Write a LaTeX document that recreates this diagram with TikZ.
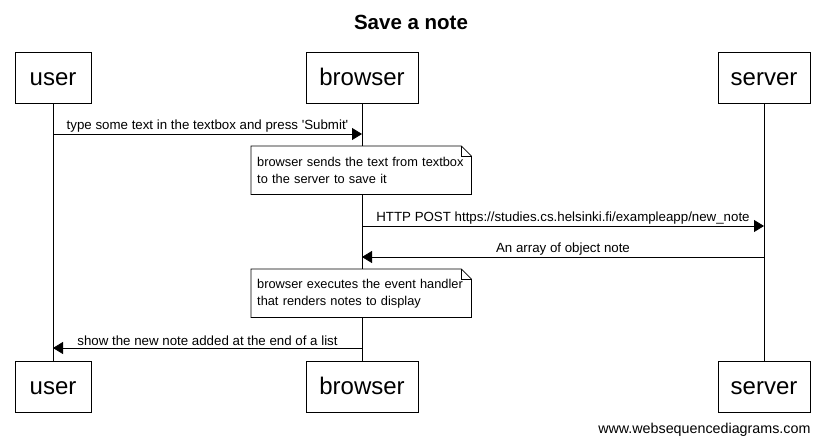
\documentclass[tikz,border=0pt]{standalone}
\usepackage{fontspec}
\setmainfont{Liberation Sans}
\usetikzlibrary{arrows.meta,calc}

\begin{document}
\begin{tikzpicture}[x=1pt,y=-1pt,every text node part/.style={align=left}]
  \tikzstyle{actor}=[draw,line width=0.8pt,minimum height=51pt,inner sep=0pt,
    text height=18pt,text depth=3pt,font=\fontsize{24}{28}\selectfont]
  \tikzstyle{msg}=[line width=0.8pt,-{Triangle[length=10pt,width=12pt]}]
  \tikzstyle{msglabel}=[above,inner sep=1.5pt,font=\fontsize{13.3}{15}\selectfont]
  \tikzstyle{note}=[anchor=north west,minimum width=220pt,minimum height=48pt,
    inner xsep=6pt,inner ysep=4pt,text width=208pt,
    font=\fontsize{12.8}{17}\selectfont]

  \useasboundingbox (0,0) rectangle (823,445);

  \node [font=\bfseries\fontsize{20.5}{24}\selectfont] (title) at (411,22) {Save a note};

  % participants
  \node [actor,minimum width=76pt] (user) at (53,77.5) {user};
  \node [actor,minimum width=112pt] (browser) at (362,77.5) {browser};
  \node [actor,minimum width=92pt] (server) at (764,77.5) {server};
  \node [actor,minimum width=76pt] (userB) at (53,387) {user};
  \node [actor,minimum width=112pt] (browserB) at (362,387) {browser};
  \node [actor,minimum width=92pt] (serverB) at (764,387) {server};

  \draw [line width=0.8pt] (user) -- (userB);
  \draw [line width=0.8pt] (browser) -- (browserB);
  \draw [line width=0.8pt] (server) -- (serverB);

  % messages
  \coordinate (u1) at (53,134);  \coordinate (b1) at (362,134);
  \coordinate (b2) at (362,226); \coordinate (s2) at (764,226);
  \coordinate (s3) at (764,257); \coordinate (b3) at (362,257);
  \coordinate (b4) at (362,348); \coordinate (u4) at (53,348);

  \draw [msg] (u1) -- node [msglabel] {type some text in the textbox and press \textquotesingle Submit\textquotesingle} (b1);
  \draw [msg] (b2) -- node [msglabel] {HTTP POST https://studies.cs.helsinki.fi/exampleapp/new\_note} (s2);
  \draw [msg] (s3) -- node [msglabel] {An array of object note} (b3);
  \draw [msg] (b4) -- node [msglabel] {show the new note added at the end of a list} (u4);

  % notes
  \node [note] (note1) at (251,146) {browser sends the text from textbox\\to the server to save it};
  \node [note] (note2) at (251,269) {browser executes the event handler\\that renders notes to display};
  \foreach \n in {note1,note2}{
    \fill [white] (\n.north west) -- ($(\n.north east)+(-10,0)$) -- ($(\n.north east)+(0,10)$)
      -- (\n.south east) -- (\n.south west) -- cycle;
    \draw [line width=0.8pt] (\n.north west) -- ($(\n.north east)+(-10,0)$) -- ($(\n.north east)+(0,10)$)
      -- (\n.south east) -- (\n.south west) -- cycle;
    \draw [line width=0.8pt] ($(\n.north east)+(-10,0)$) |- ($(\n.north east)+(0,10)$);
  }
  \node [note] at (251,146) {browser sends the text from textbox\\to the server to save it};
  \node [note] at (251,269) {browser executes the event handler\\that renders notes to display};

  \node [anchor=east,font=\fontsize{14.3}{16}\selectfont] (credit) at (814,430) {www.websequencediagrams.com};
\end{tikzpicture}
\end{document}
